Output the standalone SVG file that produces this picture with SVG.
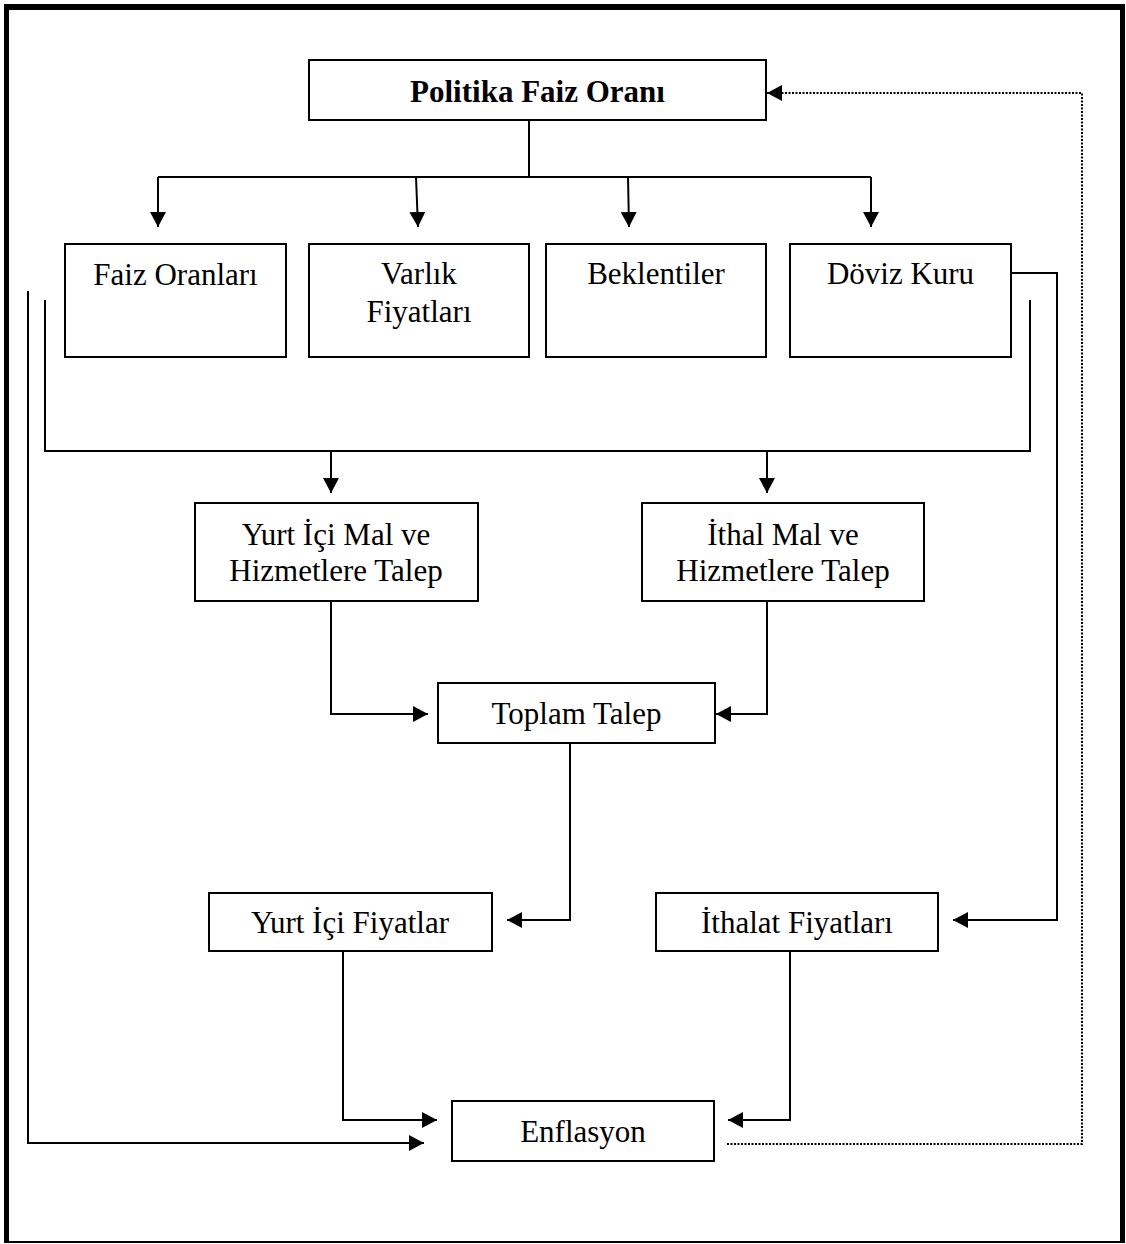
<svg xmlns="http://www.w3.org/2000/svg" width="1126" height="1244" viewBox="0 0 1126 1244">
<style>
.box{fill:#fff;stroke:#000;stroke-width:2}
.t{font-family:"Liberation Serif","Times New Roman",serif;font-size:31px;fill:#000;text-anchor:middle}
.b{font-weight:bold}
.c{fill:none;stroke:#000;stroke-width:2}
.d{fill:none;stroke:#000;stroke-width:2;stroke-dasharray:2 1.5}
</style>
<defs>
<marker id="ah" viewBox="0 0 15 16" refX="15" refY="8" markerWidth="15" markerHeight="16" markerUnits="userSpaceOnUse" orient="auto">
<path d="M0,0 L15,8 L0,16 z" fill="#000"/>
</marker>
</defs>
<rect x="0" y="0" width="1126" height="1244" fill="#fff"/>
<g id="frame">
<rect x="4" y="4" width="1121" height="6" fill="#000"/>
<rect x="4" y="4" width="5" height="1239" fill="#000"/>
<rect x="1120" y="4" width="5" height="1239" fill="#000"/>
<rect x="4" y="1241" width="1121" height="2" fill="#000"/>
</g>
<g id="connectors">
<path class="c" d="M529,120 V177 M158,177 H871"/>
<path class="c" d="M158,177 V227" marker-end="url(#ah)"/>
<path class="c" d="M416,177 L418,227" marker-end="url(#ah)"/>
<path class="c" d="M628,177 L629,227" marker-end="url(#ah)"/>
<path class="c" d="M871,177 V227" marker-end="url(#ah)"/>
<path class="c" d="M45,300 V451 H1030 V300"/>
<path class="c" d="M331,451 V493" marker-end="url(#ah)"/>
<path class="c" d="M767,451 V493" marker-end="url(#ah)"/>
<path class="c" d="M331,601 V714 H428" marker-end="url(#ah)"/>
<path class="c" d="M767,601 V714 H716" marker-end="url(#ah)"/>
<path class="c" d="M570,743 V920 H507" marker-end="url(#ah)"/>
<path class="c" d="M1011,273 H1057 V920 H953" marker-end="url(#ah)"/>
<path class="c" d="M343,951 V1120 H437" marker-end="url(#ah)"/>
<path class="c" d="M790,951 V1120 H728" marker-end="url(#ah)"/>
<path class="c" d="M28,291 V1143 H424" marker-end="url(#ah)"/>
<path class="d" d="M727,1144 H1082 V93 H780"/>
<path class="c" d="M781,93 H767" marker-end="url(#ah)"/>
</g>
<g id="politika">
<rect class="box" x="309" y="60" width="457" height="60"/>
<text class="t b" x="537.5" y="102">Politika Faiz Oranı</text>
</g>
<g id="faiz">
<rect class="box" x="65" y="244" width="221" height="113"/>
<text class="t" x="175.5" y="285">Faiz Oranları</text>
</g>
<g id="varlik">
<rect class="box" x="309" y="244" width="220" height="113"/>
<text class="t" x="419" y="284">Varlık</text>
<text class="t" x="419" y="322">Fiyatları</text>
</g>
<g id="beklentiler">
<rect class="box" x="546" y="244" width="220" height="113"/>
<text class="t" x="656" y="284">Beklentiler</text>
</g>
<g id="doviz">
<rect class="box" x="790" y="244" width="221" height="113"/>
<text class="t" x="900.5" y="284">Döviz Kuru</text>
</g>
<g id="yurtici-talep">
<rect class="box" x="195" y="503" width="283" height="98"/>
<text class="t" x="336" y="545">Yurt İçi Mal ve</text>
<text class="t" x="336" y="581">Hizmetlere Talep</text>
</g>
<g id="ithal-talep">
<rect class="box" x="642" y="503" width="282" height="98"/>
<text class="t" x="783" y="545">İthal Mal ve</text>
<text class="t" x="783" y="581">Hizmetlere Talep</text>
</g>
<g id="toplam">
<rect class="box" x="438" y="683" width="277" height="60"/>
<text class="t" x="576.5" y="724">Toplam Talep</text>
</g>
<g id="yurtici-fiyat">
<rect class="box" x="209" y="893" width="283" height="58"/>
<text class="t" x="350" y="933">Yurt İçi Fiyatlar</text>
</g>
<g id="ithalat-fiyat">
<rect class="box" x="656" y="893" width="282" height="58"/>
<text class="t" x="797" y="933">İthalat Fiyatları</text>
</g>
<g id="enflasyon">
<rect class="box" x="452" y="1101" width="262" height="60"/>
<text class="t" x="583" y="1142">Enflasyon</text>
</g>
</svg>
